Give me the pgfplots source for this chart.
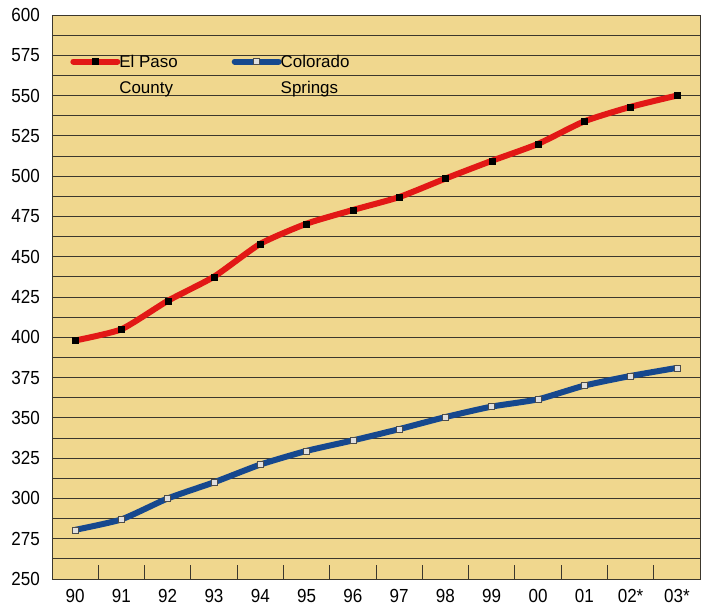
\documentclass[border=0pt]{standalone}
\usepackage{fontspec}
\setmainfont{Liberation Sans}
\newfontfamily\tickfont{Liberation Sans}[FakeStretch=0.9]
\usepackage{pgfplots}
\pgfplotsset{compat=1.18}
\definecolor{bgtan}{RGB}{240,215,142}
\definecolor{elred}{RGB}{226,24,22}
\definecolor{csblue}{RGB}{22,72,142}
\definecolor{gridc}{RGB}{60,55,45}
\begin{document}
\begin{tikzpicture}
\useasboundingbox (-52bp,-31bp) rectangle (653bp,579bp);
\begin{axis}[
  scale only axis, width=648bp, height=564bp,
  xmin=-0.5, xmax=13.5, ymin=250, ymax=600,
  axis background/.style={fill=bgtan},
  axis line style={draw=gridc, line width=0.8bp},
  xtick={0,...,13},
  xticklabels={90,91,92,93,94,95,96,97,98,99,00,01,02*,03*},
  minor xtick={0.5,1.5,...,12.5},
  xtick pos=lower,
  major x tick style={draw=none},
  minor x tick style={draw=gridc, line width=1bp},
  minor tick length=14bp,
  tick align=inside,
  ytick={250,275,...,600},
  minor ytick={262.5,287.5,...,587.5},
  ymajorgrids, yminorgrids,
  major grid style={draw=gridc, line width=0.8bp},
  minor grid style={draw=gridc, line width=0.8bp},
  major y tick style={draw=none},
  minor y tick style={draw=none},
  tick label style={font=\tickfont\fontsize{19}{22}\selectfont},
  yticklabel style={inner sep=0pt, xshift=-12bp},
  xticklabel style={inner sep=0pt, yshift=-10bp},
  /pgf/number format/assume math mode=true,
  legend image code/.code={\draw[mark repeat=2,mark phase=2,line cap=round,yshift=14bp,#1] plot coordinates {(0bp,0bp)(22bp,0bp)(44bp,0bp)};},
  legend style={at={(0.028,0.93)}, anchor=north west, draw=none, fill=none, inner sep=0pt,
    font=\fontsize{17}{26}\selectfont, nodes={align=left, inner sep=1bp},
    /tikz/every odd column/.append style={column sep=-2bp},
    /tikz/every even column/.append style={column sep=53bp}},
  legend columns=2,
  legend cell align=left,
]
\addplot[elred, line width=6bp, smooth, tension=0.35, mark=square*, mark size=3bp,
  mark options={fill=black, draw=black, line width=0.3bp}]
  coordinates {(0,398) (1,405) (2,422.6) (3,437.6) (4,458) (5,470.5) (6,479) (7,487) (8,498.5) (9,509.5) (10,520) (11,534) (12,543) (13,550)};
\addlegendentry{El Paso\\County}
\addplot[csblue, line width=6bp, smooth, tension=0.35, mark=square*, mark size=3bp,
  mark options={fill=gray!25, draw=gray!60!black, line width=0.5bp}]
  coordinates {(0,280.5) (1,287) (2,300) (3,310) (4,321) (5,329.5) (6,336) (7,343) (8,350.5) (9,357) (10,361.5) (11,370) (12,376) (13,381)};
\addlegendentry{Colorado\\Springs}
\end{axis}
\end{tikzpicture}
\end{document}
